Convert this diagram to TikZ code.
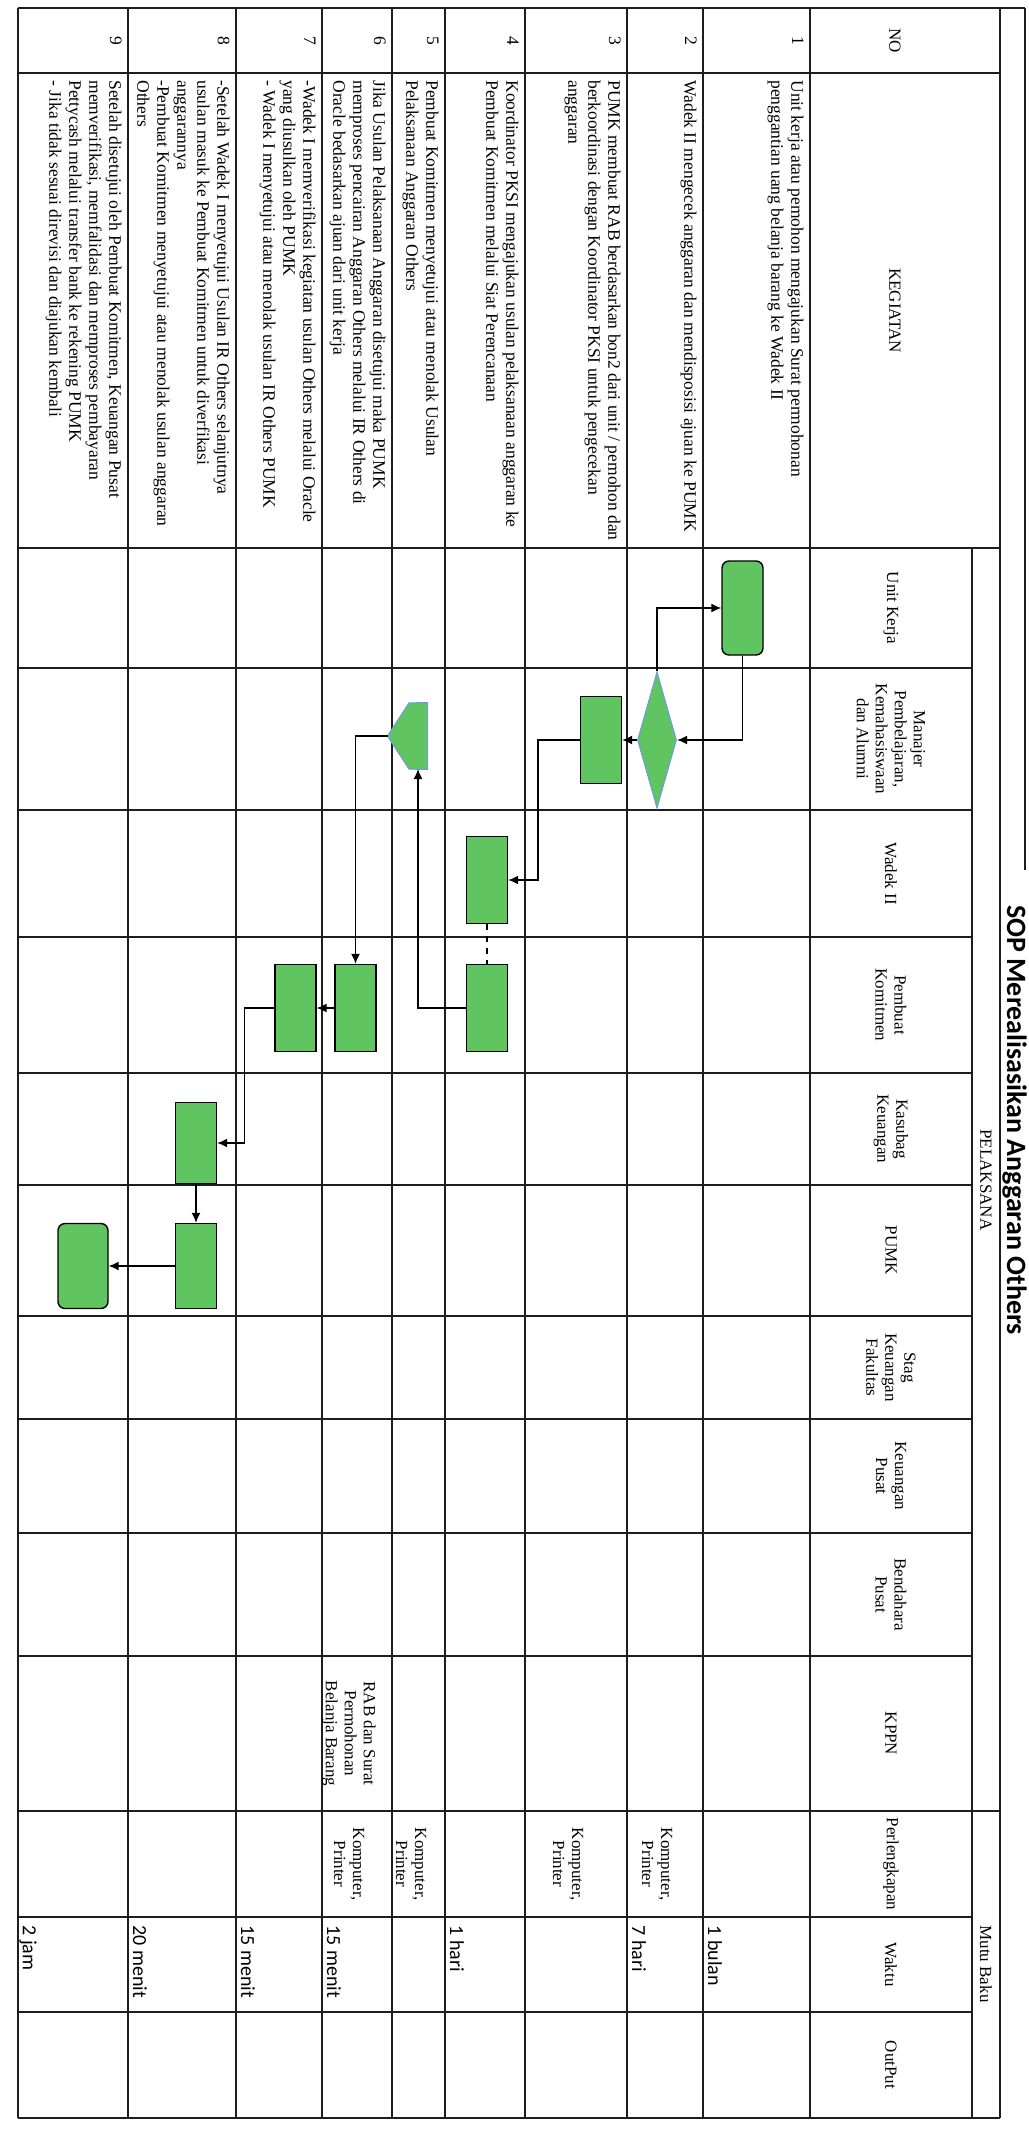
\documentclass[tikz,border=0pt]{standalone}
\usepackage{fontspec}
\setmainfont{Liberation Serif}
\newfontfamily\calib{Carlito}
\usetikzlibrary{arrows.meta,shapes.geometric}
\definecolor{flowgreen}{RGB}{96,196,96}
\definecolor{bordblue}{RGB}{110,160,215}
\definecolor{gridc}{RGB}{30,30,30}
\begin{document}
\begin{tikzpicture}[x=0.5pt,y=-0.5pt,
  grid/.style={line width=0.9pt, draw=gridc},
  lbl/.style={rotate=-90, font=\fontsize{8.5}{9.5}\selectfont, align=center, inner sep=0pt},
  keg/.style={rotate=-90, font=\fontsize{8.75}{10}\selectfont, align=left, anchor=north west, inner sep=0pt},
  num/.style={rotate=-90, font=\fontsize{8.75}{10}\selectfont, anchor=north, inner sep=0pt},
  wkt/.style={rotate=-90, font=\calib\fontsize{10}{12}\selectfont, anchor=base west, inner sep=0pt},
  proc/.style={draw=black, line width=0.7pt, fill=flowgreen, minimum width=20.5pt, minimum height=43.5pt, inner sep=0pt},
  term/.style={proc, rounded corners=3.5pt},
  dia/.style={diamond, draw=bordblue, line width=0.6pt, fill=flowgreen, minimum width=19.5pt, minimum height=68pt, inner sep=0pt},
  conn/.style={line width=0.7pt, draw=black, -{Latex[length=5pt,width=4.5pt]}},
]
\fill[white] (0,0) rectangle (1028,2130);
\useasboundingbox (0,0) rectangle (1028,2130);

% ---------- grid ----------
\foreach \x in {18,128,236,322,392,445,525,627,703,810,1000}
  \draw[grid] (\x,8) -- (\x,2118);
\draw[grid] (972,548) -- (972,2118);
\draw[grid] (1025,8) -- (1025,870);
\draw[grid] (18,8) -- (1025,8);
\draw[grid] (18,2118) -- (1000,2118);
\foreach \y in {73,548,1811}
  \draw[grid] (18,\y) -- (1000,\y);
\foreach \y in {668,810,937,1073,1185,1316,1419,1533,1656,1917,2012}
  \draw[grid] (18,\y) -- (972,\y);

% ---------- title and headers ----------
\node[rotate=-90, font=\calib\bfseries\fontsize{14}{16}\selectfont, anchor=base, inner sep=0pt] (title) at (1007,1120) {SOP Merealisasikan Anggaran Others};
\node[lbl] (hPel) at (986,1180) {PELAKSANA};
\node[lbl] (hMB) at (986,1964) {Mutu Baku};
\node[lbl] (hNO) at (895,40.5) {NO};
\node[lbl] (hKEG) at (895,310.5) {KEGIATAN};
\node[lbl] (hUK) at (891,608) {Unit Kerja};
\node[lbl] (hMan) at (891,739) {Manajer\\Pembelajaran,\\Kemahasiswaan\\dan Alumni};
\node[lbl] (hWad) at (891,873.5) {Wadek II};
\node[lbl] (hPK) at (891,1005) {Pembuat\\Komitmen};
\node[lbl] (hKas) at (891,1129) {Kasubag\\Keuangan};
\node[lbl] (hPUMK) at (891,1250.5) {PUMK};
\node[lbl] (hStag) at (891,1367.5) {Stag\\Keuangan\\Fakultas};
\node[lbl] (hKP) at (891,1476) {Keuangan\\Pusat};
\node[lbl] (hBP) at (891,1594.5) {Bendahara\\Pusat};
\node[lbl] (hKPPN) at (891,1733.5) {KPPN};
\node[lbl] (hPerl) at (891,1864) {Perlengkapan};
\node[lbl] (hWak) at (891,1964.5) {Waktu};
\node[lbl] (hOut) at (891,2065) {OutPut};

% ---------- row numbers ----------
\node[num] (n1) at (804,40.5) {1};
\node[num] (n2) at (697,40.5) {2};
\node[num] (n3) at (621,40.5) {3};
\node[num] (n4) at (519,40.5) {4};
\node[num] (n5) at (439,40.5) {5};
\node[num] (n6) at (386,40.5) {6};
\node[num] (n7) at (316,40.5) {7};
\node[num] (n8) at (230,40.5) {8};
\node[num] (n9) at (122,40.5) {9};

% ---------- kegiatan ----------
\node[keg] (k1) at (804,80) {Unit kerja atau pemohon mengajukan Surat permohonan\\penggantian uang belanja barang ke Wadek II};
\node[keg] (k2) at (697,80) {Wadek II mengecek anggaran dan mendisposisi ajuan ke PUMK};
\node[keg] (k3) at (621,80) {PUMK membuat RAB berdasarkan bon2 dari unit / pemohon dan\\berkoordinasi dengan Koordinator PKSI untuk pengecekan\\anggaran};
\node[keg] (k4) at (519,80) {Koordinator PKSI mengajukan usulan pelaksanaan anggaran ke\\Pembuat Komitmen melalui Siat Perencanaan};
\node[keg] (k5) at (439,80) {Pembuat Komitmen menyetujui atau menolak Usulan\\Pelaksanaan Anggaran Others};
\node[keg] (k6) at (386,80) {Jika Usulan Pelaksanaan Anggaran disetujui maka PUMK\\memproses pencairan Anggaran Others melalui IR Others di\\Oracle bedasarkan ajuan dari unit kerja};
\node[keg] (k7) at (316,80) {-Wadek I memverifikasi kegiatan usulan Others melalui Oracle\\yang diusulkan oleh PUMK\\- Wadek I menyetujui atau menolak usulan IR Others PUMK};
\node[keg] (k8) at (230,80) {-Setelah Wadek I menyetujui Usulan IR Others selanjutnya\\usulan masuk ke Pembuat Komitmen untuk diverfikasi\\anggarannya\\-Pembuat Komitmen menyetujui atau menolak usulan anggaran\\Others};
\node[keg] (k9) at (122,80) {Setelah disetujui oleh Pembuat Komitmen, Keuangan Pusat\\memverifikasi, memfalidasi dan memproses pembayaran\\Pettycash melalui transfer bank ke rekening PUMK\\- Jika tidak sesuai direvisi dan diajukan kembali};

% ---------- KPPN / Perlengkapan / Waktu ----------
\node[lbl] (o6) at (349,1733.5) {RAB dan Surat\\Permohonan\\Belanja Barang};
\node[lbl] (pl2) at (657,1864) {Komputer,\\Printer};
\node[lbl] (pl3) at (568,1864) {Komputer,\\Printer};
\node[lbl] (pl5) at (411,1864) {Komputer,\\Printer};
\node[lbl] (pl6) at (349,1864) {Komputer,\\Printer};
\node[wkt] (w1) at (708,1925) {1 bulan};
\node[wkt] (w2) at (632,1925) {7 hari};
\node[wkt] (w4) at (450,1925) {1 hari};
\node[wkt] (w6) at (327,1925) {15 menit};
\node[wkt] (w7) at (241,1925) {15 menit};
\node[wkt] (w8) at (133,1925) {20 menit};
\node[wkt] (w9) at (23,1925) {2 jam};

% ---------- flow shapes ----------
\node[term, minimum height=47pt] (s1) at (742.5,608) {};
\node[dia] (d2) at (657,740) {};
\node[proc] (p3) at (601,740) {};
\node[proc] (p4a) at (487,880) {};
\node[proc] (p4b) at (487,1008) {};
\node[inner sep=0pt, minimum width=19.5pt, minimum height=33pt] (hex) at (407.5,736) {};
\draw[draw=bordblue, fill=flowgreen, line width=0.6pt]
  (hex.north east) -- (hex.south east) -- (409,769) -- (hex.west) -- (409,703) -- cycle;
\coordinate (hexS) at (418,769);
\node[proc] (p6) at (355.5,1008) {};
\node[proc] (p7) at (295.5,1008) {};
\node[proc, minimum height=40.5pt] (p8a) at (196,1143) {};
\node[proc, minimum height=42.5pt] (p8b) at (196,1266) {};
\node[term, minimum width=25pt, minimum height=42.5pt] (e9) at (83,1266) {};

% ---------- connectors ----------
\draw[conn] (s1.south) -- (s1.south |- d2.east) -- (d2.east);
\draw[conn] (d2.north) -- (d2.north |- s1.west) -- (s1.west);
\draw[conn] (d2.west) -- (p3.east);
\draw[conn] (p3.west) -- ++(-42,0) |- (p4a.east);
\draw[line width=0.7pt, dashed] (p4a.south) -- (p4b.north);
\draw[conn] (p4b.west) -| (hexS);
\draw[conn] (hex.west) -| (p6.north);
\draw[conn] (p6.west) -- (p7.east);
\draw[conn] (p7.west) -- ++(-30,0) |- (p8a.east);
\draw[conn] (p8a.south) -- (p8b.north);
\draw[conn] (p8b.west) -- (e9.east);
\end{tikzpicture}
\end{document}
